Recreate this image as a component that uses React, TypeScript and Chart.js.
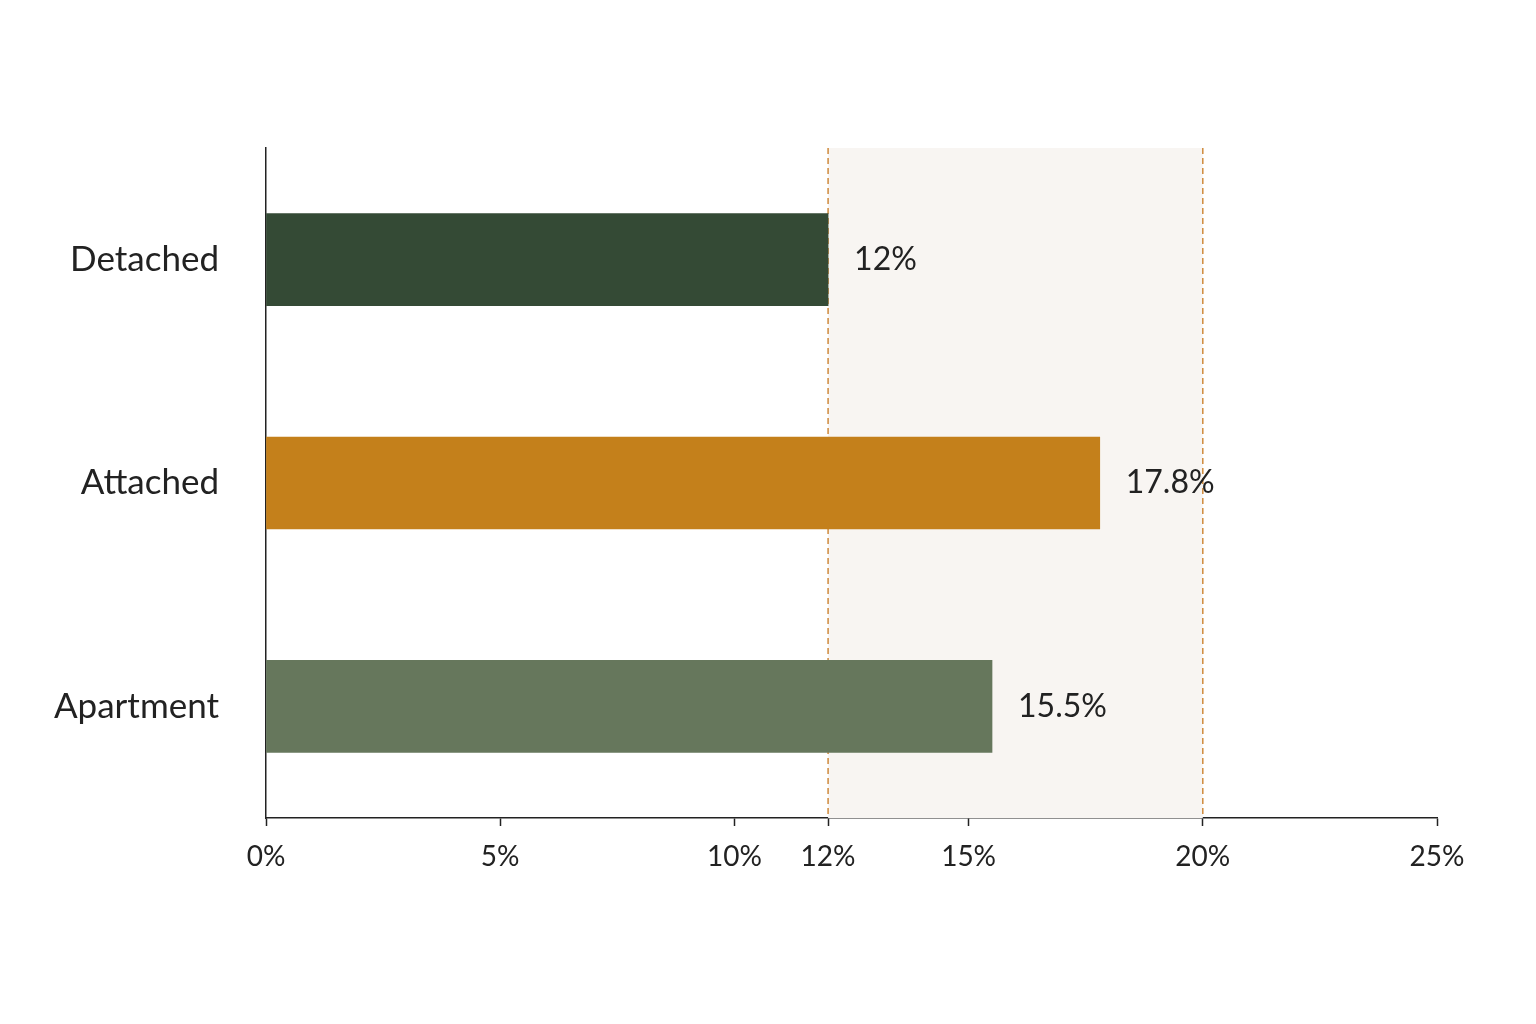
import React, { useEffect, useRef } from "react";
import { Chart, registerables } from "chart.js";

Chart.register(...registerables);

const categories = ["Detached", "Attached", "Apartment"];
const values = [12, 17.8, 15.5];
const valueLabels = ["12%", "17.8%", "15.5%"];
const barColors = ["#344a35", "#c4801b", "#66775c"];
const tickValues = [0, 5, 10, 12, 15, 20, 25];
const bandRange = [12, 20];

const FONT = "Lato, 'Open Sans', sans-serif";
const INK = "#222222";

// Zona sombreada entre 12% y 20% con líneas punteadas
const bandPlugin = {
  id: "band",
  beforeDatasetsDraw(chart: any) {
    const { ctx, chartArea, scales } = chart;
    const x0 = scales.x.getPixelForValue(bandRange[0]);
    const x1 = scales.x.getPixelForValue(bandRange[1]);
    ctx.save();
    ctx.fillStyle = "#f8f5f2";
    ctx.fillRect(x0, chartArea.top, x1 - x0, chartArea.bottom - chartArea.top);
    ctx.strokeStyle = "#cf8a3c";
    ctx.lineWidth = 1.5;
    ctx.setLineDash([6, 4]);
    [x0, x1].forEach((x) => {
      ctx.beginPath();
      ctx.moveTo(x, chartArea.top);
      ctx.lineTo(x, chartArea.bottom);
      ctx.stroke();
    });
    ctx.restore();
  },
};

// Etiquetas de valor al final de cada barra
const valueLabelPlugin = {
  id: "valueLabels",
  afterDatasetsDraw(chart: any) {
    const { ctx } = chart;
    const meta = chart.getDatasetMeta(0);
    ctx.save();
    ctx.fillStyle = INK;
    ctx.font = `32px ${FONT}`;
    ctx.textAlign = "left";
    ctx.textBaseline = "middle";
    meta.data.forEach((bar: any, i: number) => {
      ctx.fillText(valueLabels[i], bar.x + 26, bar.y);
    });
    ctx.restore();
  },
};

const BarChart: React.FC = () => {
  const chartRef = useRef<HTMLCanvasElement>(null);
  const chartInstanceRef = useRef<Chart | null>(null);

  useEffect(() => {
    if (!chartRef.current) return;
    if (chartInstanceRef.current) chartInstanceRef.current.destroy();

    chartInstanceRef.current = new Chart(chartRef.current, {
      type: "bar",
      data: {
        labels: categories,
        datasets: [
          {
            data: values,
            backgroundColor: barColors,
            borderWidth: 0,
            barThickness: 92,
          },
        ],
      },
      options: {
        indexAxis: "y",
        animation: false,
        responsive: true,
        maintainAspectRatio: false,
        layout: { padding: { top: 148, right: 99, bottom: 0, left: 0 } },
        plugins: {
          legend: { display: false },
          tooltip: { enabled: false },
        },
        scales: {
          x: {
            type: "linear",
            min: 0,
            max: 25,
            afterBuildTicks: (scale: any) => {
              scale.ticks = tickValues.map((v) => ({ value: v }));
            },
            afterFit: (scale: any) => {
              scale.height = 206;
            },
            border: { display: true, color: INK, width: 1.5 },
            grid: {
              drawOnChartArea: false,
              drawTicks: true,
              tickLength: 8,
              tickWidth: 1.5,
              color: INK,
            },
            ticks: {
              color: INK,
              font: { family: FONT, size: 28 },
              padding: 14,
              maxRotation: 0,
              autoSkip: false,
              callback: (v: any) => `${v}%`,
            },
          },
          y: {
            afterFit: (scale: any) => {
              scale.width = 266;
            },
            border: { display: true, color: INK, width: 1.5 },
            grid: { display: false, drawTicks: false },
            ticks: {
              color: INK,
              font: { family: FONT, size: 35 },
              padding: 47,
            },
          },
        },
      },
      plugins: [bandPlugin, valueLabelPlugin],
    });

    return () => {
      if (chartInstanceRef.current) {
        chartInstanceRef.current.destroy();
        chartInstanceRef.current = null;
      }
    };
  }, []);

  return (
    <div style={{ position: "fixed", inset: 0, background: "#ffffff" }}>
      <canvas ref={chartRef} />
    </div>
  );
};

export default function App() {
  return <BarChart />;
}
